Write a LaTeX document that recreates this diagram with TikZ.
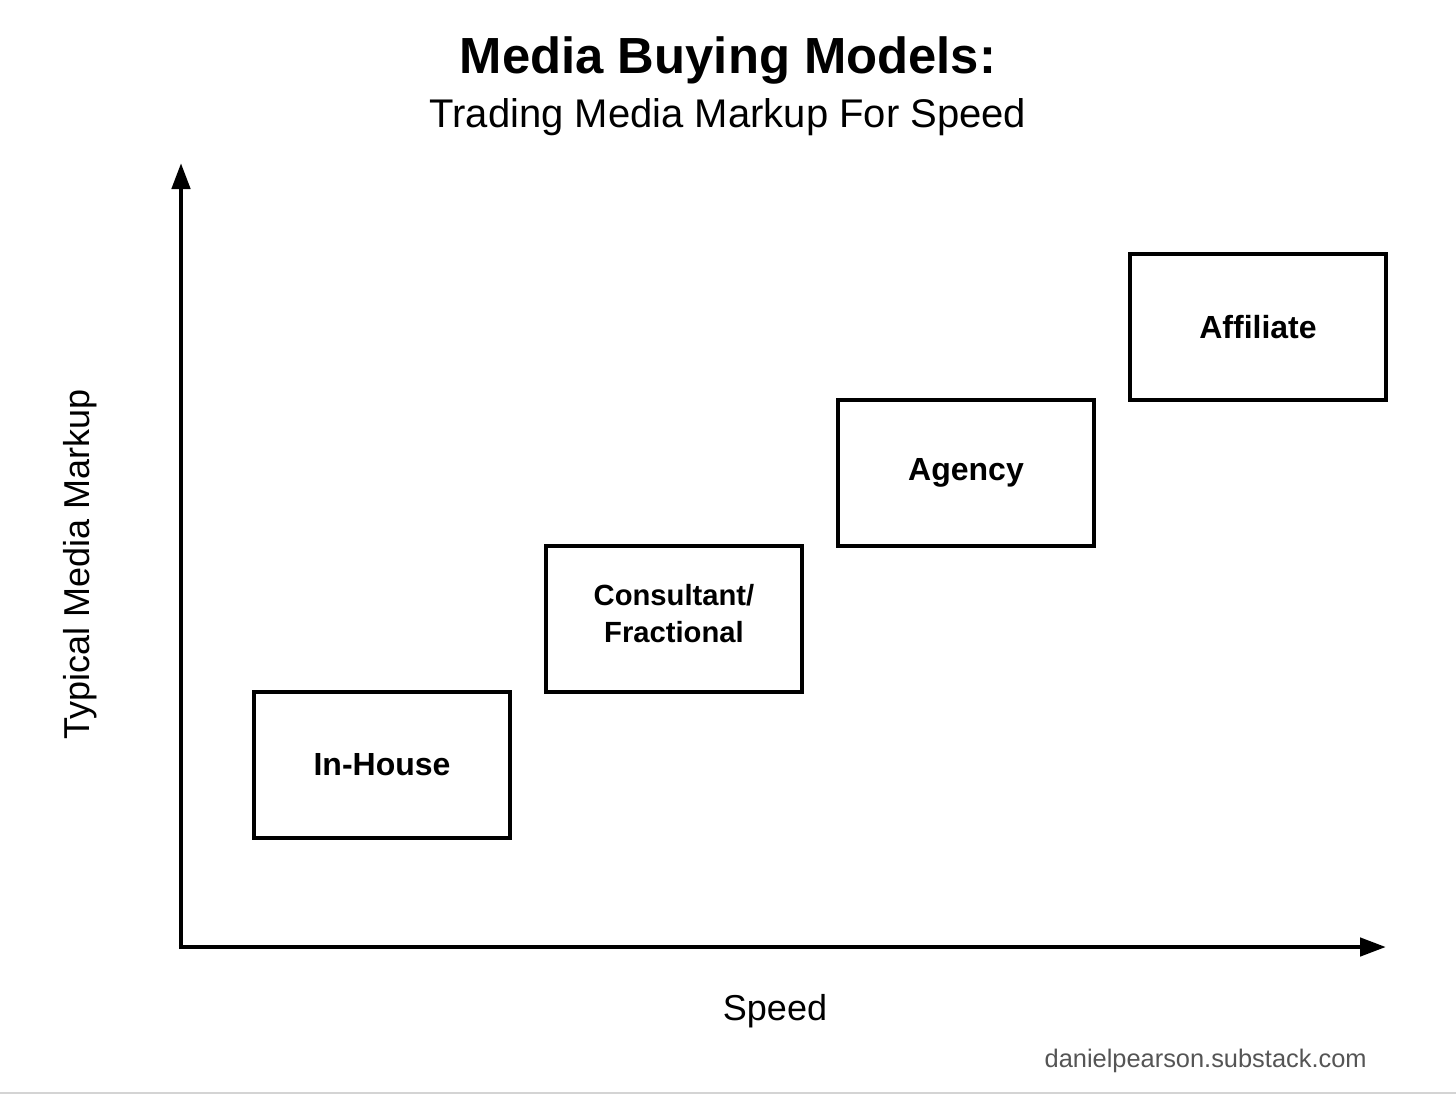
\documentclass[tikz,border=0pt]{standalone}
\usepackage{fontspec}
\setmainfont{Liberation Sans}
\usetikzlibrary{arrows.meta}
\definecolor{wm}{HTML}{555555}
\definecolor{rule}{HTML}{D4D4D4}
\begin{document}
\begin{tikzpicture}[x=0.5pt,y=-0.5pt,
  axis/.style={line width=2.3pt,-{Triangle[length=13pt,width=9pt]}},
  model/.style={draw,line width=1.75pt,minimum width=128pt,minimum height=73pt,inner sep=0pt,align=center,font=\fontsize{16}{18.5}\selectfont\bfseries},
  lbl/.style={inner sep=0pt,font=\fontsize{18}{21}\selectfont}]
\useasboundingbox (0,0) rectangle (1456,1094);
\fill[white] (0,0) rectangle (1456,1094);
% title
\node[inner sep=0pt,anchor=base,font=\fontsize{25.4}{30}\selectfont\bfseries] (title) at (728,73) {Media Buying Models:};
\node[inner sep=0pt,anchor=base,font=\fontsize{20}{24}\selectfont] (subtitle) at (728,127) {Trading Media Markup For Speed};
% axes
\coordinate (O) at (181,947);
\coordinate (Ytop) at (181,163);
\coordinate (Xend) at (1386,947);
\draw[axis] ([yshift=-1.1pt]O) -- (Ytop);
\draw[axis] ([xshift=-1.1pt]O) -- (Xend);
% boxes
\node[model] (inhouse) at (382,765) {In-House};
\node[model] (consult) at (674,619) {};
\node[inner sep=0pt,align=center,font=\fontsize{14.6}{18.5}\selectfont\bfseries] (consulttext) at (674,614) {Consultant/\\Fractional};
\node[model] (agency) at (966,473) {Agency};
\node[model] (affil) at (1258,327) {Affiliate};
% axis labels
\node[lbl] (ylabel) at (80,564) [rotate=90] {Typical Media Markup};
\node[lbl] (xlabel) at (775,1011) {Speed};
% watermark
\node[inner sep=0pt,anchor=base east,text=wm,font=\fontsize{12.7}{15}\selectfont] (wmark) at (1367,1067) {danielpearson.substack.com};
\draw[rule,line width=0.8pt] (0,1093) -- (1456,1093);
\end{tikzpicture}
\end{document}
